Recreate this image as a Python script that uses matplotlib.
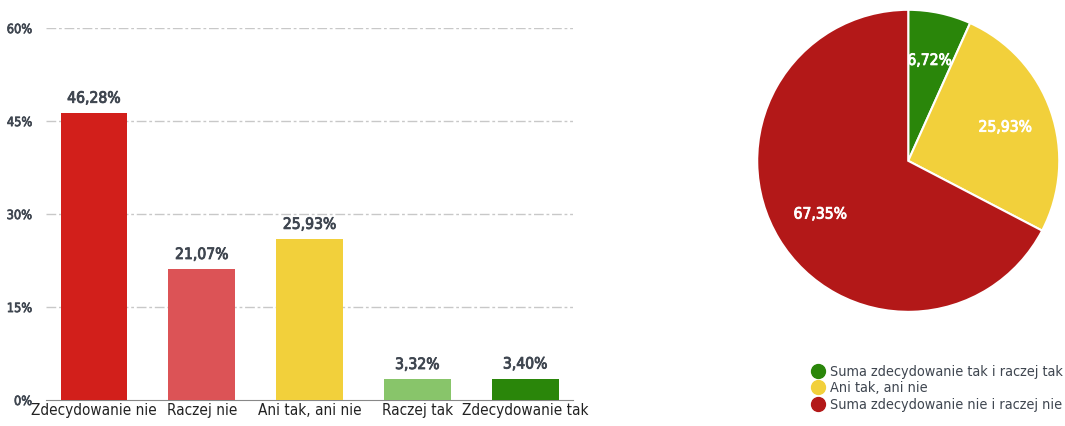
import matplotlib
matplotlib.use("Agg")
import matplotlib.pyplot as plt
from matplotlib import font_manager as fm
from matplotlib import patheffects as pe
from matplotlib.lines import Line2D
from matplotlib.textpath import TextPath

# answers for the single question, bar part
categories = ["Zdecydowanie nie", "Raczej nie", "Ani tak, ani nie", "Raczej tak", "Zdecydowanie tak"]
shares = [46.28, 21.07, 25.93, 3.32, 3.40]
bar_colors = ["#D21F1B", "#DC5356", "#F2D03B", "#88C56A", "#2A860A"]
y_ticks = [0, 15, 30, 45, 60]

# grouped answers, pie part
pie_labels = ["Suma zdecydowanie tak i raczej tak", "Ani tak, ani nie", "Suma zdecydowanie nie i raczej nie"]
pie_shares = [6.72, 25.93, 67.35]
pie_colors = ["#2A860A", "#F2D03B", "#B31818"]

TEXT = "#3F4650"
DPI = 100


def narrow_font():
    """Pick an upright condensed face if one is installed, else DejaVu Sans."""
    keys = ("Condensed", "Narrow", "condensed", "narrow")
    found = [f for f in fm.fontManager.ttflist
             if f.style == "normal"
             and any(k in f.fname or k in f.name for k in keys)]
    plain = [f for f in found if f.weight in ("normal", "regular", 400)] or found
    if plain:
        return fm.FontProperties(fname=plain[0].fname)
    return fm.FontProperties(family="DejaVu Sans")


NARROW = narrow_font()


def sized(text, width_px):
    """Copy of the narrow face scaled so that `text` is about width_px wide."""
    p = NARROW.copy()
    p.set_size(100)
    w = TextPath((0, 0), text, prop=p).get_extents().width  # in points
    p.set_size(100 * width_px * 72 / DPI / w)
    return p


def heavy(color, lw=0.6):
    # thicken the narrow face a little for the numeric labels
    return [pe.withStroke(linewidth=lw, foreground=color)]


def pct(v):
    return f"{v:.2f}".replace(".", ",") + "%"


fig = plt.figure(figsize=(10.65, 4.26), dpi=DPI)

f_value = sized("46,28%", 52)
f_ytick = sized("60%", 24)
f_xtick = sized("Zdecydowanie nie", 124)
f_legend = sized(pie_labels[2], 230)

# ── bar chart ────────────────────────────────────────────────────────────
ax = fig.add_axes([0.0432, 0.061, 0.495, 0.873])
x = range(len(categories))
bars = ax.bar(x, shares, width=0.62, color=bar_colors, zorder=3)
for bar, val in zip(bars, shares):
    ax.text(bar.get_x() + bar.get_width() / 2, val + 1.2, pct(val),
            ha="center", va="bottom", color=TEXT, fontproperties=f_value,
            path_effects=heavy(TEXT))

ax.set_xlim(-0.445, 4.445)
ax.set_ylim(0, 60)
ax.set_yticks(y_ticks)
ax.set_yticklabels([f"{t}%" for t in y_ticks], color=TEXT, fontproperties=f_ytick)
for lab in ax.get_yticklabels():
    lab.set_path_effects(heavy(TEXT, 0.5))
ax.set_xticks(list(x))
ax.set_xticklabels(categories, color="#222222", fontproperties=f_xtick)
ax.tick_params(axis="y", length=0, pad=10)
ax.tick_params(axis="x", length=0, pad=2)
for t in y_ticks[1:]:
    ax.axhline(t, color="#C8C8C8", lw=1, dashes=(7, 2, 2, 2), zorder=1)
for s in ["top", "right", "left"]:
    ax.spines[s].set_visible(False)
ax.spines["bottom"].set_color("#888888")

# ── pie chart ────────────────────────────────────────────────────────────
pax = fig.add_axes([0.711, 0.268, 0.2836, 0.709])
wedges, _, autotexts = pax.pie(
    pie_shares, colors=pie_colors, startangle=90, counterclock=False,
    autopct=lambda p: pct(p), pctdistance=0.68,
    wedgeprops=dict(edgecolor="white", linewidth=1.5))
for t in autotexts:
    t.set_color("white")
    t.set_fontproperties(f_value)
    t.set_path_effects(heavy("white"))
pax.set_xlim(-1, 1)
pax.set_ylim(-1, 1)
pax.set_aspect("equal")

handles = [Line2D([], [], marker="o", ls="", markersize=10, color=c) for c in pie_colors]
fig.legend(handles, pie_labels, loc="upper left", bbox_to_anchor=(0.749, 0.174),
           frameon=False, handletextpad=0.35, labelspacing=0.18,
           prop=f_legend, labelcolor=TEXT, handlelength=1.0)

fig.savefig("out.png", dpi=DPI)
